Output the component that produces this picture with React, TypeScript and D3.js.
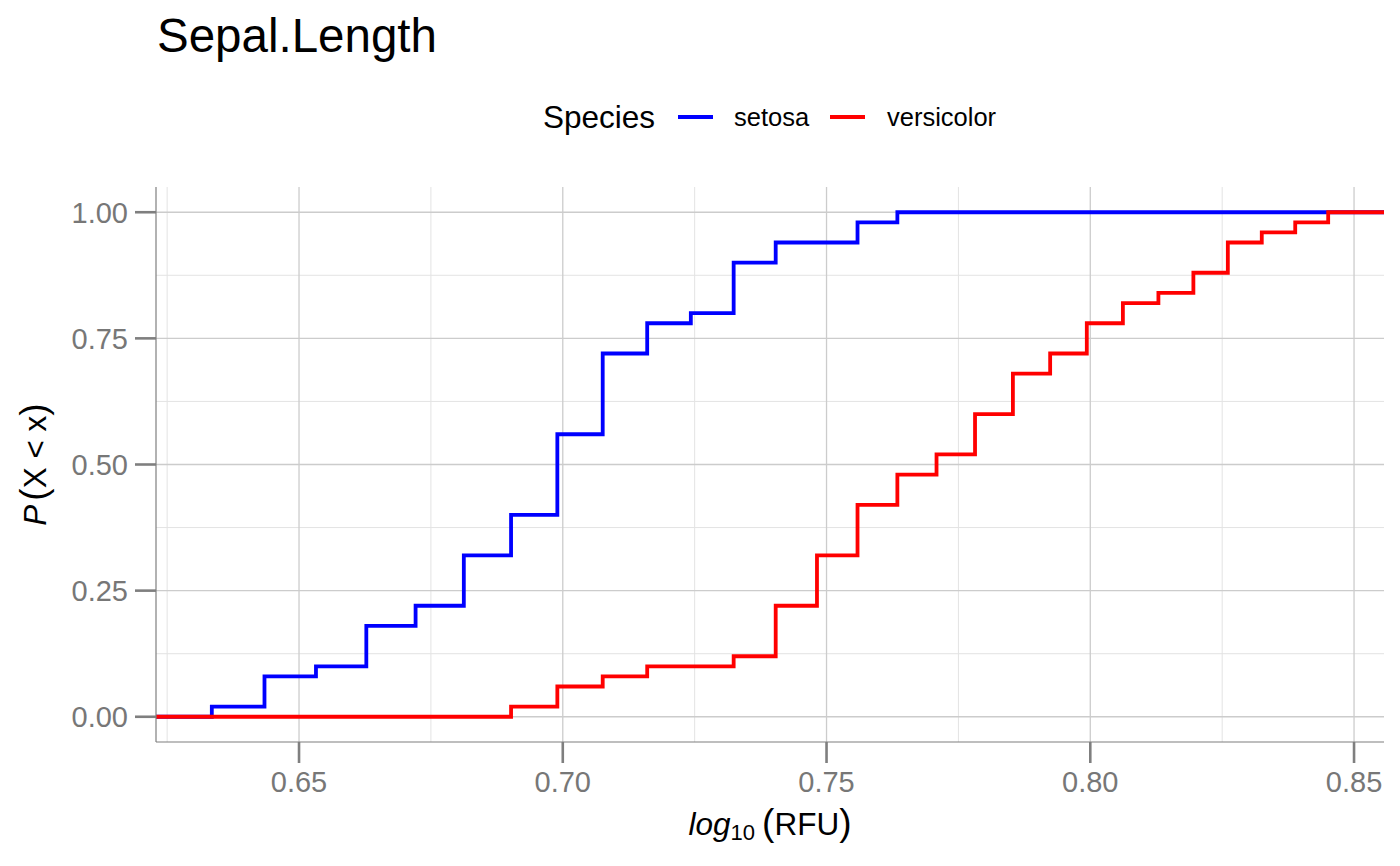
import React from 'react';
import * as d3 from 'd3';

// ECDF of Sepal.Length (log10 scale) for two iris species
const setosaLengths = [4.3, 4.4, 4.5, 4.6, 4.7, 4.8, 4.9, 5.0, 5.1, 5.2, 5.3, 5.4, 5.5, 5.7, 5.8];
const setosaCum = [0.02, 0.08, 0.1, 0.18, 0.22, 0.32, 0.4, 0.56, 0.72, 0.78, 0.8, 0.9, 0.94, 0.98, 1.0];
const versicolorLengths = [4.9, 5.0, 5.1, 5.2, 5.4, 5.5, 5.6, 5.7, 5.8, 5.9, 6.0, 6.1, 6.2, 6.3, 6.4, 6.5, 6.6, 6.7, 6.8, 6.9, 7.0];
const versicolorCum = [0.02, 0.06, 0.08, 0.1, 0.12, 0.22, 0.32, 0.42, 0.48, 0.52, 0.6, 0.68, 0.72, 0.78, 0.82, 0.84, 0.88, 0.94, 0.96, 0.98, 1.0];

const species = ['setosa', 'versicolor'];
const speciesColors = ['#0000ff', '#ff0000'];
const xTicks = [0.65, 0.7, 0.75, 0.8, 0.85];
const xMinor = [0.625, 0.675, 0.725, 0.775, 0.825];
const yTicks = [0, 0.25, 0.5, 0.75, 1];
const yMinor = [0.125, 0.375, 0.625, 0.875];

const FONT = '"Liberation Sans", Arial, Helvetica, sans-serif';

const App = () => {
  const margin = { left: 156, right: 16, top: 187, bottom: 124 };
  const W = 1400;
  const H = 866;

  const allLog = [...setosaLengths, ...versicolorLengths].map((d) => Math.log10(d));
  const [lo, hi] = d3.extent(allLog) as [number, number];
  const pad = (hi - lo) * 0.05;

  const x = d3.scaleLinear().domain([lo - pad, hi + pad]).range([margin.left, W - margin.right]);
  const y = d3.scaleLinear().domain([-0.05, 1.05]).range([H - margin.bottom, margin.top]);

  const [x0, x1] = x.range();
  const [y0, y1] = y.range();

  const makeSeries = (lengths: number[], cum: number[]) => {
    const pts: [number, number][] = [[x.domain()[0], 0]];
    lengths.forEach((l, i) => pts.push([Math.log10(l), cum[i]]));
    pts.push([x.domain()[1], 1]);
    return pts;
  };

  const series = [makeSeries(setosaLengths, setosaCum), makeSeries(versicolorLengths, versicolorCum)];

  const line = d3
    .line<[number, number]>()
    .x((d) => x(d[0]))
    .y((d) => y(d[1]))
    .curve(d3.curveStepAfter);

  const axisGrey = '#7f7f7f';
  const textGrey = '#777777';

  return (
    <svg width={W} height={H} style={{ position: 'absolute', left: 0, top: 0, background: '#fff' }} fontFamily={FONT}>
      {/* title */}
      <text x={157} y={52} fontSize={47.5} fill="#000">Sepal.Length</text>

      {/* legend */}
      <g>
        <text x={543} y={128} fontSize={31.5} fill="#000">Species</text>
        {species.map((s, i) => {
          const kx = [678, 830][i];
          const lx = [734, 887][i];
          return (
            <g key={s}>
              <line x1={kx} x2={kx + 35} y1={117} y2={117} stroke={speciesColors[i]} strokeWidth={3.8} />
              <text x={lx} y={126} fontSize={25.5} fill="#000">{s}</text>
            </g>
          );
        })}
      </g>

      {/* grid */}
      <g>
        {xMinor.map((v) => (
          <line key={'xm' + v} x1={x(v)} x2={x(v)} y1={y1} y2={y0} stroke="#e3e3e3" strokeWidth={1} />
        ))}
        {yMinor.map((v) => (
          <line key={'ym' + v} x1={x0} x2={x1} y1={y(v)} y2={y(v)} stroke="#e3e3e3" strokeWidth={1} />
        ))}
        {xTicks.map((v) => (
          <line key={'xM' + v} x1={x(v)} x2={x(v)} y1={y1} y2={y0} stroke="#cccccc" strokeWidth={1.3} />
        ))}
        {yTicks.map((v) => (
          <line key={'yM' + v} x1={x0} x2={x1} y1={y(v)} y2={y(v)} stroke="#cccccc" strokeWidth={1.3} />
        ))}
      </g>

      {/* ecdf steps */}
      {series.map((pts, i) => (
        <path key={species[i]} d={line(pts) || ''} fill="none" stroke={speciesColors[i]} strokeWidth={3.8} />
      ))}

      {/* axes */}
      <line x1={x0} x2={x0} y1={y1} y2={y0} stroke={axisGrey} strokeWidth={1.2} />
      <line x1={x0} x2={x1} y1={y0} y2={y0} stroke={axisGrey} strokeWidth={1.2} />
      {yTicks.map((v) => (
        <g key={'yt' + v}>
          <line x1={x0 - 21} x2={x0} y1={y(v)} y2={y(v)} stroke={axisGrey} strokeWidth={2.6} />
          <text x={x0 - 28} y={y(v)} dy="0.36em" textAnchor="end" fontSize={29} fill={textGrey}>
            {d3.format('.2f')(v)}
          </text>
        </g>
      ))}
      {xTicks.map((v) => (
        <g key={'xt' + v}>
          <line x1={x(v)} x2={x(v)} y1={y0} y2={y0 + 21} stroke={axisGrey} strokeWidth={2.6} />
          <text x={x(v)} y={y0 + 50} textAnchor="middle" fontSize={29} fill={textGrey}>
            {d3.format('.2f')(v)}
          </text>
        </g>
      ))}

      {/* axis titles */}
      <text x={(x0 + x1) / 2} y={835} textAnchor="middle" fontSize={31.5} fill="#000">
        <tspan fontStyle="italic">log</tspan>
        <tspan fontSize={22} dy={5}>10</tspan>
        <tspan dy={-5} dx={7} fontSize={37}>(</tspan>
        <tspan>RFU</tspan>
        <tspan fontSize={37}>)</tspan>
      </text>
      <text
        transform={`translate(46, ${(y0 + y1) / 2}) rotate(-90)`}
        textAnchor="middle"
        fontSize={31.5}
        fill="#000"
      >
        <tspan fontStyle="italic">P</tspan>
        <tspan dx={4} fontSize={37}>(</tspan>
        <tspan>X &lt; x</tspan>
        <tspan fontSize={37}>)</tspan>
      </text>
    </svg>
  );
};

export default App;
